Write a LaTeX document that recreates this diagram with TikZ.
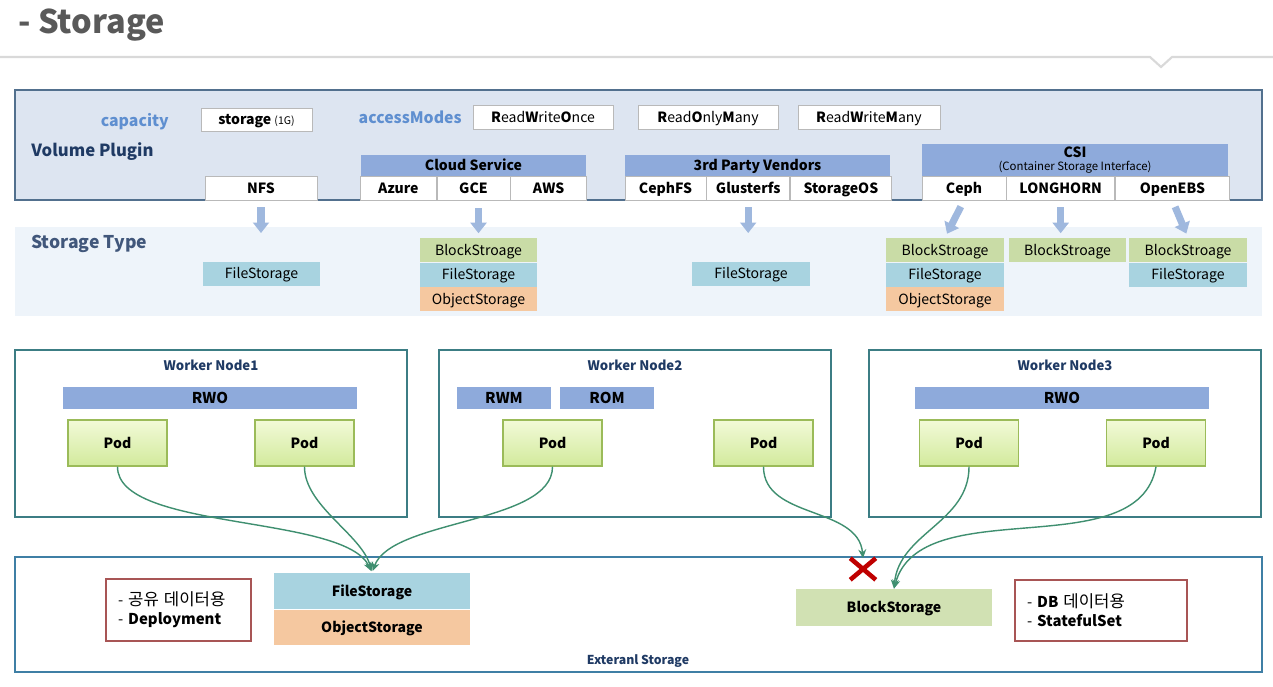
\documentclass[tikz,border=0pt]{standalone}
\usepackage{fontspec}
\setmainfont{Noto Sans CJK KR}
\newfontfamily\hangul{Noto Sans CJK KR}[Scale=1.12]
\usetikzlibrary{arrows.meta, positioning, shapes.misc}
\definecolor{titlegray}{HTML}{595959}
\definecolor{panelfill}{HTML}{DDE5F1}
\definecolor{panelline}{HTML}{52708E}
\definecolor{keyblue}{HTML}{5F8FD0}
\definecolor{navy}{HTML}{1F3A64}
\definecolor{headblue}{HTML}{8EAADB}
\definecolor{arrowblue}{HTML}{9FB8DE}
\definecolor{bandfill}{HTML}{EEF4FA}
\definecolor{filecol}{HTML}{A8D3E0}
\definecolor{blockcol}{HTML}{C9DCA6}
\definecolor{objcol}{HTML}{F5C8A0}
\definecolor{workerline}{HTML}{3C7D84}
\definecolor{extline}{HTML}{3F7FA5}
\definecolor{noteline}{HTML}{A85555}
\definecolor{linkgreen}{HTML}{3F8F70}
\definecolor{podline}{HTML}{9BBB59}
\definecolor{podtop}{HTML}{F2FAD8}
\definecolor{podbottom}{HTML}{D2EA9C}
\tikzset{
  >={Stealth[length=5pt,width=4.5pt]},
  txt/.style={text height=0.75em, text depth=0.15em},
  panel/.style={draw=panelline, fill=panelfill, line width=0.9pt,
    inner sep=0pt, minimum width=24.94cm},
  cell/.style={txt, draw=gray!55, fill=white, inner sep=0pt,
    minimum height=0.48cm, font=\fontsize{8}{9}\selectfont},
  plug/.style={cell, font=\fontsize{8}{9}\selectfont\bfseries},
  header/.style={txt, fill=headblue, inner sep=0pt, minimum height=0.42cm,
    font=\fontsize{8}{9}\selectfont\bfseries},
  csihead/.style={fill=headblue, inner sep=0pt, align=center,
    font=\fontsize{8}{9}\selectfont\bfseries},
  keyword/.style={txt, text=keyblue, inner sep=0pt,
    font=\fontsize{9}{10}\selectfont\bfseries},
  label/.style={txt, anchor=west, inner sep=0pt, text=navy},
  stype/.style={txt, inner sep=0pt, minimum width=2.36cm, minimum height=0.48cm,
    font=\fontsize{8}{9}\selectfont},
  file/.style={stype, fill=filecol},
  block/.style={stype, fill=blockcol},
  object/.style={stype, fill=objcol},
  bigarrow/.style={draw=arrowblue, line width=4pt,
    -{Triangle[length=6pt,width=9pt]}},
  worker/.style={draw=workerline, line width=0.9pt, fill=white,
    inner sep=0pt, minimum width=7.84cm, minimum height=3.34cm},
  wtitle/.style={txt, text=navy, inner sep=0pt,
    font=\fontsize{7.5}{9}\selectfont\bfseries},
  mode/.style={txt, fill=headblue, inner sep=0pt, minimum height=0.44cm,
    font=\fontsize{8.5}{10}\selectfont\bfseries},
  pod/.style={txt, draw=podline, line width=0.8pt, top color=podtop,
    bottom color=podbottom, inner sep=0pt, minimum width=1.98cm,
    minimum height=0.92cm, font=\fontsize{8}{9}\selectfont\bfseries},
  link/.style={draw=linkgreen, line width=0.8pt, ->},
  note/.style={draw=noteline, line width=1.5pt, fill=white, inner xsep=0.24cm,
    inner ysep=0pt, align=left, font=\fontsize{8.5}{11}\selectfont},
  store/.style={txt, inner sep=0pt, minimum width=3.92cm,
    font=\fontsize{8}{9}\selectfont\bfseries},
}

\begin{document}
\begin{tikzpicture}[x=0.02cm, y=-0.02cm]
\fill[white] (0,0) rectangle (1273,686);
\useasboundingbox (0,0) rectangle (1273,686);

% title
\node[label, text=titlegray,
  font=\fontsize{18.5}{20}\selectfont\bfseries] (title) at (18,28) {- Storage};
\draw[gray!30, line width=1.2pt] (0,57) -- (1150,57) -- (1161,67) -- (1172,57) -- (1273,57);

% volume plugin
\node[panel, minimum height=2.2cm] (vp) at (638.5,145) {};
\node[keyword, anchor=east] (cap) at (169,121) {capacity};
\node[cell, minimum width=2.22cm, minimum height=0.46cm] (stor) at (256.5,119.5)
  {\textbf{storage} {\fontsize{6}{7}\selectfont (1G)}};
\node[keyword, anchor=east] (am) at (462,118) {accessModes};
\node[cell, minimum width=2.8cm] (rwo) at (543,117) {\textbf{R}ead\textbf{W}rite\textbf{O}nce};
\node[cell, minimum width=2.8cm] (rom) at (708,117) {\textbf{R}ead\textbf{O}nly\textbf{M}any};
\node[cell, minimum width=2.84cm] (rwm) at (869,117) {\textbf{R}ead\textbf{W}rite\textbf{M}any};
\node[label, font=\fontsize{9.5}{11}\selectfont\bfseries] (vplabel) at (31,151) {Volume Plugin};

\node[plug, minimum width=2.24cm] (nfs) at (261,188) {NFS};

\node[header, minimum width=4.5cm] (cloud) at (473.5,165.5) {Cloud Service};
\node[plug, minimum width=1.46cm, below=0pt of cloud] (gce) {GCE};
\node[plug, minimum width=1.52cm, left=0pt of gce] (azure) {Azure};
\node[plug, minimum width=1.52cm, right=0pt of gce] (aws) {AWS};

\node[header, minimum width=5.3cm] (vendor) at (757.5,165.5) {3rd Party Vendors};
\node[plug, minimum width=1.62cm] (cephfs) at (665.5,188) {CephFS};
\node[plug, minimum width=1.66cm, right=0pt of cephfs] (gluster) {Glusterfs};
\node[plug, minimum width=2.02cm, right=0pt of gluster] (sos) {StorageOS};

\node[csihead, minimum width=6.12cm, minimum height=0.66cm] (csi) at (1075,160)
  {CSI\\[-2pt]{\mdseries\fontsize{6.5}{7}\selectfont (Container Storage Interface)}};
\node[plug, minimum width=1.68cm] (ceph) at (964,188) {Ceph};
\node[plug, minimum width=2.16cm, right=0pt of ceph] (lh) {LONGHORN};
\node[plug, minimum width=2.28cm, right=0pt of lh] (ebs) {OpenEBS};

% storage type
\node[fill=bandfill, inner sep=0pt, minimum width=24.94cm, minimum height=1.78cm] (band) at (638.5,271.5) {};
\node[label, text=navy!85,
  font=\fontsize{10}{12}\selectfont\bfseries] (stlabel) at (31,243) {Storage Type};

\node[file, minimum width=2.34cm] (fs1) at (261.5,273.5) {FileStorage};
\node[block, minimum width=2.34cm] (gb) at (478.5,250) {BlockStroage};
\node[file, minimum width=2.34cm, below=0pt of gb] (gf) {FileStorage};
\node[object, minimum width=2.34cm, below=0pt of gf] (go) {ObjectStorage};
\node[file] (vf) at (751,273.5) {FileStorage};
\node[block] (cb) at (945,250) {BlockStroage};
\node[file, below=0pt of cb] (cf) {FileStorage};
\node[object, below=0pt of cf] (co) {ObjectStorage};
\node[block, minimum width=2.34cm] (lb) at (1067.5,250) {BlockStroage};
\node[block] (ob) at (1188,250) {BlockStroage};
\node[file, below=0pt of ob] (of) {FileStorage};

\draw[bigarrow, shorten <=4pt, shorten >=16pt] (nfs.south) -- (nfs.south |- fs1.north);
\draw[bigarrow, shorten <=4pt, shorten >=2.5pt] (gb.north |- gce.south) -- (gb.north);
\draw[bigarrow, shorten <=4pt, shorten >=16pt] (gluster.south) -- (gluster.south |- vf.north);
\draw[bigarrow, shorten <=4pt, shorten >=2.5pt] (ceph.south) -- (cb.north);
\draw[bigarrow, shorten <=4pt, shorten >=2.5pt] (lh.south) -- (lh.south |- lb.north);
\draw[bigarrow, shorten <=4pt, shorten >=2.5pt] (ebs.south) -- (ob.north);

% worker nodes
\node[worker] (wn1) at (211,433.5) {};
\node[worker] (wn2) at (635,433.5) {};
\node[worker] (wn3) at (1065,433.5) {};
\node[wtitle] (t1) at (211,365) {Worker Node1};
\node[wtitle] (t2) at (635,365) {Worker Node2};
\node[wtitle] (t3) at (1065,365) {Worker Node3};

\node[mode, minimum width=5.88cm] (m1) at (210,398) {RWO};
\node[mode, minimum width=1.88cm] (m2) at (504,398) {RWM};
\node[mode, minimum width=1.88cm] (m3) at (607,398) {ROM};
\node[mode, minimum width=5.88cm] (m4) at (1062,398) {RWO};

\node[pod] (p1) at (117.5,443) {Pod};
\node[pod] (p2) at (304.5,443) {Pod};
\node[pod] (p3) at (552.5,443) {Pod};
\node[pod] (p4) at (763.5,443) {Pod};
\node[pod] (p5) at (969,443) {Pod};
\node[pod] (p6) at (1156,443) {Pod};

% external storage
\node[draw=extline, line width=0.9pt, inner sep=0pt, minimum width=24.94cm, minimum height=2.3cm] (ext) at (638.5,614.5) {};
\node[wtitle, font=\fontsize{7}{8}\selectfont\bfseries] (extlabel) at (638,659) {Exteranl Storage};

\node[note, text width=2.42cm, minimum height=1.24cm] (n1) at (178.5,610)
  {- {\hangul 공유 데이터용}\\- \textbf{Deployment}};
\node[store, fill=filecol, minimum height=0.72cm] (efs) at (372,591) {FileStorage};
\node[store, fill=objcol, minimum height=0.7cm, below=0pt of efs] (eobj) {ObjectStorage};
\node[store, fill=blockcol!85!white, minimum height=0.74cm] (eblk) at (894,607.5) {BlockStorage};
\node[note, text width=2.96cm, minimum height=1.22cm] (n2) at (1101,610.5)
  {- \textbf{DB} {\hangul 데이터용}\\- \textbf{StatefulSet}};

\node[cross out, draw=red!75!black, line width=2.6pt, inner sep=0pt,
  minimum width=0.42cm, minimum height=0.34cm] (nogo) at (863,569) {};

% links
\draw[link, shorten >=1pt] (p1.south) to[out=-90, in=115, looseness=0.6] (efs.north);
\draw[link, shorten >=1pt] (p2.south) to[out=-90, in=105, looseness=0.8] (efs.north);
\draw[link, shorten >=1pt] (p3.south) to[out=-90, in=70, looseness=0.7] (efs.north);
\draw[link] (p4.south) to[out=-90, in=95, looseness=1] (nogo.north);
\draw[link] (p5.south) to[out=-90, in=85, looseness=1] (eblk.north);
\draw[link] (p6.south) to[out=-100, in=75, looseness=0.9] (eblk.north);
\end{tikzpicture}
\end{document}
